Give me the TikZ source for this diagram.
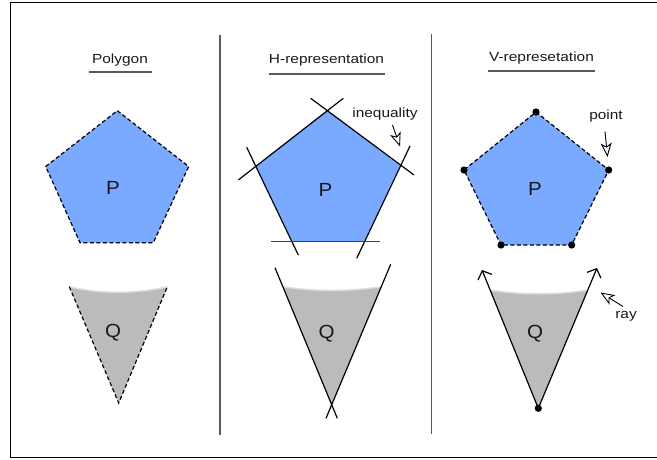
\documentclass[tikz,border=0pt]{standalone}
\usepackage{fontspec}
\setmainfont{Liberation Sans}
\usetikzlibrary{arrows.meta,calc}
\definecolor{pblue}{RGB}{122,170,255}
\definecolor{qgray}{RGB}{187,187,187}
\definecolor{divgray}{RGB}{90,90,90}
\definecolor{txt}{RGB}{25,25,25}
\newcommand\wtext[2]{\scalebox{#1}[1]{#2}}
\tikzset{
  small/.style={font=\fontsize{13.2}{15}\selectfont, text=txt, inner sep=0pt},
  big/.style={font=\fontsize{19}{21}\selectfont, text=txt, inner sep=0pt},
  uline/.style={draw=divgray, line width=1.2pt},
  dashedge/.style={draw=black, line width=1.2pt, dash pattern=on 4pt off 2.5pt},
  solidedge/.style={draw=black, line width=1.2pt},
  note/.style={draw=black, line width=0.9pt, -{Stealth[open,length=14pt,width=11pt,inset=3.5pt]}},
  rayarrow/.style={draw=black, line width=1.2pt, -{Straight Barb[length=7pt,width=15pt]}},
  vdot/.style={fill=black},
  hilite/.style={draw=black!12, line width=1.5pt},
}
\begin{document}
\begin{tikzpicture}[x=1pt,y=-1pt]
\useasboundingbox (0,0) rectangle (657,459);
% frame
\coordinate (fTR) at (657,2.5);
\coordinate (fTL) at (10.5,2.5);
\coordinate (fBL) at (10.5,457.5);
\coordinate (fBR) at (657,457.5);
\draw[line width=1.1pt] (fTR) -- (fTL) -- (fBL) -- (fBR);
% dividers
\coordinate (d1a) at (220,34.5); \coordinate (d1b) at (220,435);
\coordinate (d2a) at (431.5,33.5); \coordinate (d2b) at (431.5,433.5);
\draw[divgray, line width=1.1pt] (d1a) -- (d1b);
\draw[divgray, line width=1.1pt] (d2a) -- (d2b);

% ---------- titles ----------
\node[small] (t1) at (120,60.5) {\wtext{1.17}{Polygon}};
\coordinate (u1a) at (89,72); \coordinate (u1b) at (151.5,72);
\draw[uline] (u1a) -- (u1b);
\node[small] (t2) at (326.5,60) {\wtext{1.17}{H-representation}};
\coordinate (u2a) at (268.5,74); \coordinate (u2b) at (384.5,74);
\draw[uline] (u2a) -- (u2b);
\node[small] (t3) at (541.5,58) {\wtext{1.17}{V-represetation}};
\coordinate (u3a) at (488,71); \coordinate (u3b) at (595,71);
\draw[uline] (u3a) -- (u3b);

% ---------- Polygon column ----------
\coordinate (a1) at (117.3,110.7);
\coordinate (a2) at (188.7,166.5);
\coordinate (a3) at (153.3,242.7);
\coordinate (a4) at (80,242.7);
\coordinate (a5) at (45.7,166.5);
\fill[pblue] (a1) -- (a2) -- (a3) -- (a4) -- (a5) -- cycle;
\draw[dashedge] (a1) -- (a2) -- (a3) -- (a4) -- (a5) -- cycle;
\node[big] (p1) at (113,188) {\wtext{1.08}{P}};

\coordinate (q1l) at (69.3,286.7);
\coordinate (q1r) at (167.3,286.7);
\coordinate (q1a) at (118.7,403);
\fill[qgray] (q1l) .. controls (101,294) and (135,294) .. (q1r) -- (q1a) -- cycle;
\draw[hilite] (q1l) .. controls (101,294) and (135,294) .. (q1r);
\draw[dashedge] (q1l) -- (q1a) -- (q1r);
\node[big] (q1) at (113,333) {\wtext{1.08}{Q}};

% ---------- H-representation column ----------
\coordinate (h1) at (327.3,110);
\coordinate (h2) at (400,165.5);
\coordinate (h3) at (364,241.7);
\coordinate (h4) at (292.7,241.7);
\coordinate (h5) at (256,166);
\fill[pblue] (h1) -- (h2) -- (h3) -- (h4) -- (h5) -- cycle;
\coordinate (l1a) at (238.3,180); \coordinate (l1b) at (343.3,98.3);
\coordinate (l2a) at (310.7,98.3); \coordinate (l2b) at (414,175);
\coordinate (l3a) at (246.7,147.3); \coordinate (l3b) at (298.3,255);
\coordinate (l4a) at (410,146); \coordinate (l4b) at (356.7,258.3);
\coordinate (l5a) at (271,241.7); \coordinate (l5b) at (380,241.7);
\draw[solidedge] (l1a) -- (l1b);
\draw[solidedge] (l2a) -- (l2b);
\draw[solidedge] (l3a) -- (l3b);
\draw[solidedge] (l4a) -- (l4b);
\draw[solidedge, draw=black!75] (l5a) -- (l5b);
\node[big] (p2) at (325.5,190) {\wtext{1.08}{P}};
\node[small] (ineq) at (385,114) {\wtext{1.17}{inequality}};
\coordinate (ia) at (392.5,125); \coordinate (ib) at (400,146.5);
\draw[note] (ia) -- (ib);

\coordinate (hqtl) at (282.9,286.7);
\coordinate (hqtr) at (381.3,286.7);
\coordinate (hqx) at (331.7,404.7);
\fill[qgray] (hqtl) .. controls (315,291.5) and (349,291.5) .. (hqtr) -- (hqx) -- cycle;
\draw[hilite] (hqtl) .. controls (315,291.5) and (349,291.5) .. (hqtr);
\coordinate (hl1) at (275,267.7); \coordinate (hl2) at (337.3,418.3);
\coordinate (hr1) at (390.7,264.3); \coordinate (hr2) at (326,418.3);
\draw[solidedge] (hl1) -- (hl2);
\draw[solidedge] (hr1) -- (hr2);
\node[big] (q2) at (326.5,333.5) {\wtext{1.08}{Q}};

% ---------- V-representation column ----------
\coordinate (v1) at (536,112);
\coordinate (v2) at (608.7,170);
\coordinate (v3) at (571.7,245);
\coordinate (v4) at (501,245);
\coordinate (v5) at (464,170);
\fill[pblue] (v1) -- (v2) -- (v3) -- (v4) -- (v5) -- cycle;
\draw[dashedge] (v1) -- (v2) -- (v3) -- (v4) -- (v5) -- cycle;
\foreach \v in {v1,v2,v3,v4,v5} \fill[vdot] (\v) circle (3.6);
\node[big] (p3) at (535,189) {\wtext{1.08}{P}};
\node[small] (pt) at (606,116) {\wtext{1.17}{point}};
\coordinate (pa) at (605,131.5); \coordinate (pb) at (607.5,157);
\draw[note] (pa) -- (pb);

\coordinate (vqtl) at (490.2,290);
\coordinate (vqtr) at (587.8,290);
\coordinate (vqa) at (538.3,408.3);
\fill[qgray] (vqtl) .. controls (522,295) and (556,295) .. (vqtr) -- (vqa) -- cycle;
\draw[hilite] (vqtl) .. controls (522,295) and (556,295) .. (vqtr);
\coordinate (rl) at (482,270);
\coordinate (rr) at (597,268);
\draw[rayarrow] (vqa) -- (rl);
\draw[rayarrow] (vqa) -- (rr);
\fill[vdot] (vqa) circle (3.6);
\node[big] (q3) at (535,333.5) {\wtext{1.08}{Q}};
\node[small] (ray) at (626,316) {\wtext{1.17}{ray}};
\coordinate (ra) at (623,306.5); \coordinate (rb) at (600.5,292.5);
\draw[note] (ra) -- (rb);
\end{tikzpicture}
\end{document}
